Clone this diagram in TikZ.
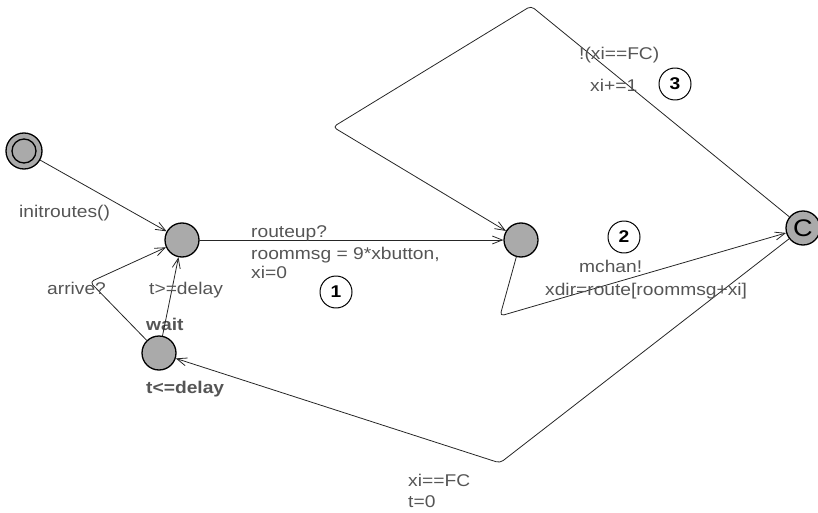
\documentclass[tikz,border=0pt]{standalone}
\usepackage{fontspec}
\setmainfont{Liberation Sans}[FakeStretch=1.13]
\usepackage{xcolor}
\usetikzlibrary{arrows.meta}
\definecolor{locfill}{RGB}{170,170,170}
\definecolor{labelgray}{RGB}{85,85,85}

\begin{document}
\begin{tikzpicture}[x=1pt, y=-1pt, line join=round, line cap=round,
    font=\fontsize{17}{20}\selectfont,
    loc/.style={circle, draw, fill=locfill, line width=1.3pt, minimum size=34pt, inner sep=0pt},
    edge/.style={-{Straight Barb[length=10pt,width=8pt]}, draw=black!85, line width=0.8pt, rounded corners=4pt},
    lbl/.style={anchor=base west, inner sep=0pt, text=labelgray},
    num/.style={circle, draw, fill=white, line width=1pt, minimum size=32pt, inner sep=0pt, font=\fontsize{17}{20}\selectfont\bfseries}]
        \useasboundingbox (0,0) rectangle (818,513);

        % locations
        \node [loc, minimum size=36pt] (init) at (24,151) {};
        \draw [line width=1.3pt] (init.center) circle [radius=12];
        \node [loc] (start) at (182,240) {};
        \node [loc] (route) at (521,240) {};
        \node [loc, font=\fontsize{24}{24}\selectfont] (commit) at (803,228) {C};
        \node [loc] (wait) at (159,353) {};
        \node [lbl, font=\fontsize{17}{20}\selectfont\bfseries] (waitname) at (146,330) {wait};
        \node [lbl, font=\fontsize{17}{20}\selectfont\bfseries] (waitinv) at (146,393) {t<=delay};

        % bend points
        \coordinate (arrivebend) at (90,282);
        \coordinate (sendbend) at (500,316);
        \coordinate (looptop) at (531,6);
        \coordinate (loopleft) at (333,127);
        \coordinate (donebend) at (500,463);

        % edges
        \draw [edge] (init) -- (start);
        \draw [edge] (start) -- (route);
        \draw [edge] (route) -- (sendbend) -- (commit);
        \draw [edge] (commit) -- (looptop) -- (loopleft) -- (route);
        \draw [edge] (commit) -- (donebend) -- (wait);
        \draw [edge] (wait) -- (start);
        \draw [edge] (wait) -- (arrivebend) -- (start);

        % labels
        \node [lbl] (initupd) at (19,217) {initroutes()};
        \node [lbl] (upsync) at (251,237) {routeup?};
        \node [lbl] (upupd) at (251,259) {roommsg = 9*xbutton,};
        \node [lbl] (upupdb) at (251,278) {xi=0};
        \node [lbl] (sendsync) at (579,272) {mchan!};
        \node [lbl] (sendupd) at (545,295) {xdir=route[roommsg+xi]};
        \node [lbl] (loopguard) at (579,60) {!(xi==FC)};
        \node [lbl] (loopupd) at (590,92) {xi+=1};
        \node [lbl] (doneguard) at (408,486) {xi==FC};
        \node [lbl] (doneupd) at (408,507) {t=0};
        \node [lbl] (arrivesync) at (47,294) {arrive?};
        \node [lbl] (waitguard) at (149,294) {t>=delay};

        % edge numbers
        \node [num] (n1) at (336,292) {1};
        \node [num] (n2) at (624,237) {2};
        \node [num] (n3) at (675,84) {3};
\end{tikzpicture}
\end{document}
